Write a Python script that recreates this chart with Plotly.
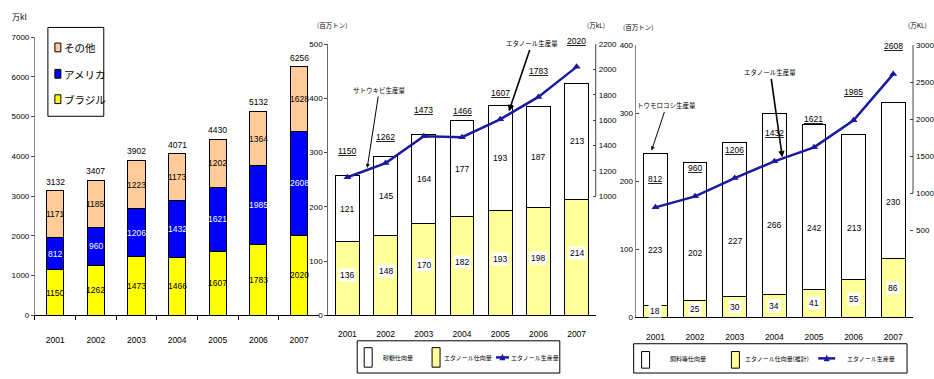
import plotly.graph_objects as go

W, H = 934, 379

years = ["2001", "2002", "2003", "2004", "2005", "2006", "2007"]

# Left panel: world ethanol production (万kl)
brazil = [1150, 1262, 1473, 1466, 1607, 1783, 2020]
usa = [812, 960, 1206, 1432, 1621, 1985, 2608]
others = [1171, 1185, 1223, 1173, 1202, 1364, 1628]
world_total = [3132, 3407, 3902, 4071, 4430, 5132, 6256]

# Middle panel: Brazil sugar cane (百万トン) and ethanol production (万kL)
cane_ethanol = [136, 148, 170, 182, 193, 198, 214]
cane_sugar = [121, 145, 164, 177, 193, 187, 213]
brazil_ethanol = [1150, 1262, 1473, 1466, 1607, 1783, 2020]

# Right panel: USA corn (百万トン) and ethanol production (万KL)
corn_ethanol = [18, 25, 30, 34, 41, 55, 86]
corn_feed = [223, 202, 227, 266, 242, 213, 230]
usa_ethanol = [812, 960, 1206, 1432, 1621, 1985, 2608]

FONT = "Liberation Sans Narrow, Liberation Sans, Noto Sans CJK JP, sans-serif"
JP = "Noto Sans CJK JP, sans-serif"
LINE_C = "#1a1aa0"
YEL2 = "#ffff99"


def px(x):
    return x / W


def py(y):
    return 1 - y / H


fig = go.Figure()

# ---------- left panel ----------
for name, vals, col in [("ブラジル", brazil, "#ffff00"), ("アメリカ", usa, "#0000ff"), ("その他", others, "#ffcc99")]:
    fig.add_trace(go.Bar(x=years, y=vals, name=name, width=0.42, marker=dict(color=col, line=dict(color="#000", width=1)),
                         xaxis="x", yaxis="y", showlegend=False))

# ---------- middle panel ----------
fig.add_trace(go.Bar(x=years, y=cane_ethanol, name="エタノール仕向量", width=0.62,
                     marker=dict(color=YEL2, line=dict(color="#000", width=1)), xaxis="x2", yaxis="y2", showlegend=False))
fig.add_trace(go.Bar(x=years, y=cane_sugar, name="砂糖仕向量", width=0.62,
                     marker=dict(color="#ffffff", line=dict(color="#000", width=1)), xaxis="x2", yaxis="y2", showlegend=False))
fig.add_trace(go.Scatter(x=years, y=brazil_ethanol, name="エタノール生産量", mode="lines+markers",
                         line=dict(color=LINE_C, width=2.5), marker=dict(symbol="triangle-up", size=7, color=LINE_C),
                         xaxis="x2", yaxis="y3", showlegend=False))

# ---------- right panel ----------
fig.add_trace(go.Bar(x=years, y=corn_ethanol, name="エタノール仕向量(推計)", width=0.6,
                     marker=dict(color=YEL2, line=dict(color="#000", width=1)), xaxis="x3", yaxis="y4", showlegend=False))
fig.add_trace(go.Bar(x=years, y=corn_feed, name="飼料等仕向量", width=0.6,
                     marker=dict(color="#ffffff", line=dict(color="#000", width=1)), xaxis="x3", yaxis="y4", showlegend=False))
fig.add_trace(go.Scatter(x=years, y=usa_ethanol, name="エタノール生産量", mode="lines+markers",
                         line=dict(color=LINE_C, width=2.5), marker=dict(symbol="triangle-up", size=7, color=LINE_C),
                         xaxis="x3", yaxis="y5", showlegend=False))

ann = []
tf = dict(family=FONT, size=8.5, color="#000")

# left panel labels (x given as category index)
for i in range(len(years)):
    base = 0
    for vals, fc in [(brazil, "#000"), (usa, "#fff"), (others, "#000")]:
        ann.append(dict(x=i, y=base + vals[i] / 2, xref="x", yref="y", text=str(vals[i]), showarrow=False,
                        xanchor="center", yanchor="middle", font=dict(family=FONT, size=8.5, color=fc)))
        base += vals[i]
    ann.append(dict(x=i, y=world_total[i], xref="x", yref="y", text=str(world_total[i]), showarrow=False,
                    xanchor="center", yanchor="bottom", yshift=2, font=dict(family=FONT, size=8.5, color="#000")))

# middle panel labels
for i in range(len(years)):
    ann.append(dict(x=i, y=cane_ethanol[i] / 2, xref="x2", yref="y2", text=str(cane_ethanol[i]), showarrow=False,
                    xanchor="center", yanchor="middle", yshift=4, bgcolor="#fff", borderpad=1, font=tf))
    ann.append(dict(x=i, y=cane_ethanol[i] + cane_sugar[i] / 2, xref="x2", yref="y2", text=str(cane_sugar[i]),
                    xanchor="center", yanchor="middle", showarrow=False, font=tf))
    ann.append(dict(x=i, y=brazil_ethanol[i], xref="x2", yref="y3", text="<u>%d</u>" % brazil_ethanol[i],
                    xanchor="center", yanchor="middle", showarrow=False, yshift=26, font=tf))

# right panel labels
for i in range(len(years)):
    ann.append(dict(x=i, y=corn_ethanol[i] / 2, xref="x3", yref="y4", text=str(corn_ethanol[i]), showarrow=False,
                    xanchor="center", yanchor="middle", bgcolor="#fff", borderpad=1, font=tf))
    ann.append(dict(x=i, y=corn_ethanol[i] + corn_feed[i] / 2, xref="x3", yref="y4", text=str(corn_feed[i]),
                    xanchor="center", yanchor="middle", showarrow=False, yshift=-21, font=tf))
    ann.append(dict(x=i, y=usa_ethanol[i], xref="x3", yref="y5", text="<u>%d</u>" % usa_ethanol[i],
                    xanchor="center", yanchor="middle", showarrow=False, yshift=28, font=tf))

jf = dict(family=JP, size=6.5, color="#000")
lf = dict(family=JP, size=6, color="#000")


def ptext(txt, x, y, font=jf, xa="center"):
    return dict(x=px(x), y=py(y), xref="paper", yref="paper", text=txt, showarrow=False,
                xanchor=xa, yanchor="middle", font=font)


# unit labels
ann += [
    ptext("万kl", 20, 13, dict(family=JP, size=8, color="#000")),
    ptext("(百万トン)", 333, 22),
    ptext("(万kL)", 597, 22),
    ptext("(百万トン)", 639, 24),
    ptext("(万KL)", 919, 21),
]

# callout arrows
for txt, hx, hy, tx, ty, w in [("サトウキビ生産量", 368, 168, 380, 90, 1),
                               ("エタノール生産量", 510, 110, 533, 42, 1.6),
                               ("トウモロコシ生産量", 653, 150, 668, 105, 1),
                               ("エタノール生産量", 784, 157, 772, 72, 1.6)]:
    ann.append(dict(x=px(hx), y=py(hy), xref="paper", yref="paper", ax=tx - hx, ay=ty - hy, text=txt,
                    showarrow=True, arrowhead=2, arrowsize=0.8, arrowwidth=w, arrowcolor="#000", font=jf))

shapes = []
# left legend
shapes.append(dict(type="rect", xref="paper", yref="paper", x0=px(48), x1=px(104), y0=py(24), y1=py(115),
                   line=dict(color="#000", width=1), fillcolor="#fff"))
for name, col, yy in [("その他", "#ffcc99", 45), ("アメリカ", "#0000ff", 72), ("ブラジル", "#ffff00", 98)]:
    shapes.append(dict(type="rect", xref="paper", yref="paper", x0=px(55), x1=px(61), y0=py(yy - 5), y1=py(yy + 4),
                       line=dict(color="#000", width=1), fillcolor=col))
    ann.append(ptext(name, 62, yy, dict(family=JP, size=10.5, color="#000"), xa="left"))

# middle legend
shapes.append(dict(type="rect", xref="paper", yref="paper", x0=px(358), x1=px(561), y0=py(345), y1=py(378),
                   line=dict(color="#000", width=1)))
for x0, col in [(365, "#fff"), (433, YEL2)]:
    shapes.append(dict(type="rect", xref="paper", yref="paper", x0=px(x0), x1=px(x0 + 8), y0=py(352), y1=py(372),
                       line=dict(color="#000", width=1), fillcolor=col))
shapes.append(dict(type="line", xref="paper", yref="paper", x0=px(497), x1=px(510), y0=py(362), y1=py(362),
                   line=dict(color=LINE_C, width=2.5)))
shapes.append(dict(type="path", xref="paper", yref="paper",
                   path="M %f %f L %f %f L %f %f Z" % (px(500.5), py(365), px(506.5), py(365), px(503.5), py(358)),
                   fillcolor=LINE_C, line=dict(color=LINE_C, width=0)))
for txt, cx in [("砂糖仕向量", 399), ("エタノール仕向量", 469), ("エタノール生産量", 536)]:
    ann.append(ptext(txt, cx, 362, lf))

# right legend
shapes.append(dict(type="rect", xref="paper", yref="paper", x0=px(635), x1=px(909), y0=py(348), y1=py(378),
                   line=dict(color="#000", width=1)))
for x0, col in [(643, "#fff"), (733, YEL2)]:
    shapes.append(dict(type="rect", xref="paper", yref="paper", x0=px(x0), x1=px(x0 + 8), y0=py(356), y1=py(373),
                       line=dict(color="#000", width=1), fillcolor=col))
shapes.append(dict(type="line", xref="paper", yref="paper", x0=px(820), x1=px(837), y0=py(363), y1=py(363),
                   line=dict(color=LINE_C, width=2.5)))
shapes.append(dict(type="path", xref="paper", yref="paper",
                   path="M %f %f L %f %f L %f %f Z" % (px(825.5), py(366), px(831.5), py(366), px(828.5), py(359)),
                   fillcolor=LINE_C, line=dict(color=LINE_C, width=0)))
for txt, cx in [("飼料等仕向量", 689), ("エタノール仕向量(推計)", 779), ("エタノール生産量", 873)]:
    ann.append(ptext(txt, cx, 363, lf))

# partial right axis lines
shapes.append(dict(type="line", xref="x2 domain", yref="y3", x0=1, x1=1, y0=1000, y1=2200, line=dict(color="#444", width=1)))
shapes.append(dict(type="line", xref="x3 domain", yref="y5", x0=1, x1=1, y0=1000, y1=3000, line=dict(color="#444", width=1)))

xcommon = dict(type="category", range=[-0.5, 6.5], showline=True, linecolor="#000", linewidth=1, showgrid=False,
               tickfont=dict(family=FONT, size=8.5, color="#000"), fixedrange=True)
ycommon = dict(showline=True, linecolor="#888", linewidth=1, showgrid=False, zeroline=False, ticks="outside",
               ticklen=3, tickcolor="#444", tickfont=dict(family=FONT, size=8, color="#000"), fixedrange=True)

fig.update_layout(
    width=W, height=H, margin=dict(l=0, r=0, t=0, b=0), paper_bgcolor="#fff", plot_bgcolor="#fff",
    barmode="stack", showlegend=False, font=dict(family=FONT, size=8.5, color="#000"),
    xaxis=dict(xcommon, domain=[px(35), px(320)], anchor="y", ticks="outside", tickson="boundaries", ticklen=4,
               tickcolor="#000", ticklabelstandoff=16),
    yaxis=dict(ycommon, domain=[1 - 319 / H, 1 - 34 / H], anchor="x", range=[0, 7000], dtick=1000),
    xaxis2=dict(xcommon, domain=[px(329), px(597)], anchor="y2", ticks="", ticklabelstandoff=10),
    yaxis2=dict(ycommon, domain=[1 - 319 / H, 1 - 41 / H], anchor="x2", range=[0, 500], dtick=100,
                linecolor="#666"),
    yaxis3=dict(ycommon, overlaying="y2", side="right", anchor="x2", range=[61.5, 2200], ticks="inside",
                tickvals=[1000, 1200, 1400, 1600, 1800, 2000, 2200], showline=False, ticklabelstandoff=2),
    xaxis3=dict(xcommon, domain=[px(637), px(915)], anchor="y4", ticks="", ticklabelstandoff=11),
    yaxis4=dict(ycommon, domain=[1 - 321 / H, 1 - 42 / H], anchor="x3", range=[0, 400], dtick=100,
                ticks="inside", linecolor="#888"),
    yaxis5=dict(ycommon, overlaying="y4", side="right", anchor="x3", range=[-671, 3000], ticks="inside",
                tickvals=[500, 1000, 1500, 2000, 2500, 3000], showline=False, ticklabelstandoff=2),
    annotations=ann, shapes=shapes,
)

fig.write_html("out.html")
